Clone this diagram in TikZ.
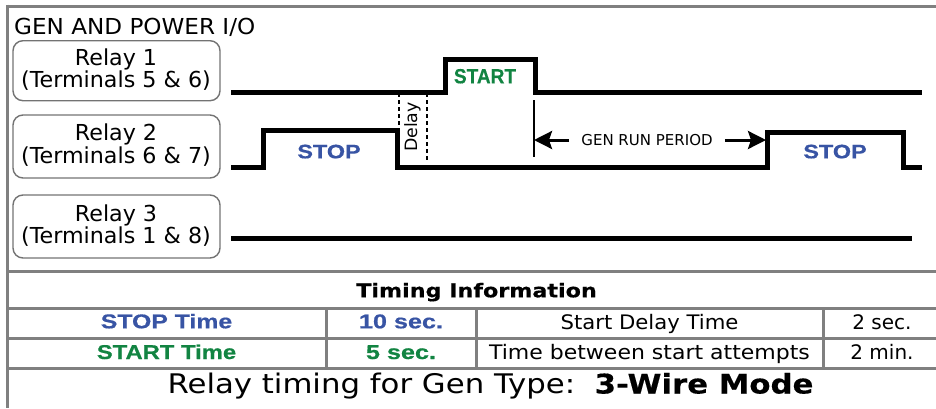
\documentclass[tikz,border=0pt]{standalone}
\usepackage{fontspec}
\usepackage{graphicx}
\setmainfont{DejaVu Sans}
\newfontfamily\libbold{Liberation Sans Bold}[FakeBold=0.5]
\newfontfamily\dvbold{DejaVu Sans Bold}[FakeBold=0.4]
\usetikzlibrary{arrows.meta}
\definecolor{stopblue}{RGB}{56,84,164}
\definecolor{startgreen}{RGB}{18,132,66}
\definecolor{framegray}{RGB}{128,128,128}
\definecolor{boxgray}{RGB}{115,115,115}
\newcommand\fsz[1]{\fontsize{#1pt}{#1pt}\selectfont}
\newcommand\hx[2]{\scalebox{#1}[1]{#2}}
\begin{document}
\begin{tikzpicture}[x=1pt,y=-1pt,
  rule/.style={draw=framegray,line width=3pt},
  relaybox/.style={draw=boxgray,line width=1.4pt,rounded corners=10pt,inner sep=0pt},
  wave/.style={line width=5pt,line join=miter,line cap=butt},
  lbl/.style={inner sep=0pt,anchor=base},
  dashline/.style={line width=2pt,dash pattern=on 4pt off 3pt},
  runarrow/.style={line width=3pt,-{Stealth[length=18pt,width=18pt,inset=3pt]},shorten <=12pt},
  stoplbl/.style={lbl,text=stopblue,font=\libbold},
  startlbl/.style={lbl,text=startgreen,font=\libbold}]
\useasboundingbox (0,0) rectangle (936,408);
% frame and table rules
\draw[rule] (7,6) -- (936,6);
\draw[rule] (7,4.5) -- (7,408);
\draw[rule] (7,271.5) -- (936,271.5);
\draw[rule] (7,308) -- (936,308);
\draw[rule] (7,338) -- (936,338);
\draw[rule] (7,368) -- (936,368);
\draw[rule] (326,308) -- (326,368);
\draw[rule] (476,308) -- (476,368);
\draw[rule] (823,308) -- (823,368);
% title
\node[lbl,anchor=base west] (title) at (14,34.3) {\fsz{22}\hx{1.05}{GEN AND POWER I/O}};
% relay boxes
\node[relaybox,minimum width=207pt,minimum height=60pt] (r1box) at (116.5,70.7) {};
\node[relaybox,minimum width=207pt,minimum height=63pt] (r2box) at (116.5,146.5) {};
\node[relaybox,minimum width=207pt,minimum height=63pt] (r3box) at (116.5,226.5) {};
\node[lbl] (r1a) at (116,65) {\fsz{22}\hx{1.01}{Relay 1}};
\node[lbl] (r1b) at (116,87.3) {\fsz{22}\hx{1.01}{(Terminals 5 \& 6)}};
\node[lbl] (r2a) at (116,140.7) {\fsz{22}\hx{1.01}{Relay 2}};
\node[lbl] (r2b) at (116,163.3) {\fsz{22}\hx{1.01}{(Terminals 6 \& 7)}};
\node[lbl] (r3a) at (116,221.7) {\fsz{22}\hx{1.01}{Relay 3}};
\node[lbl] (r3b) at (116,243.3) {\fsz{22}\hx{1.01}{(Terminals 1 \& 8)}};
% waveforms
\draw[wave] (231,92) -- (445,92) -- (445,59) -- (535,59) -- (535,92) -- (922,92);
\draw[wave] (231,167) -- (263,167) -- (263,130) -- (397,130) -- (397,167) -- (767,167) -- (767,132) -- (903,132) -- (903,167) -- (922,167);
\draw[wave] (231,238) -- (912,238);
% delay
\draw[dashline] (398.5,93) -- (398.5,162);
\draw[dashline] (427,93) -- (427,162);
\node[inner sep=0pt,rotate=90] (delay) at (412.5,127) {\fsz{17}\hx{1.02}{Delay}};
% labels on waves
\node[startlbl] (start) at (485,83.3) {\fsz{20.5}\hx{0.93}{START}};
\node[stoplbl] (stop1) at (329,158.3) {\fsz{19.5}\hx{1.2}{STOP}};
\node[stoplbl] (stop2) at (835,158.3) {\fsz{19.5}\hx{1.2}{STOP}};
% gen run period
\coordinate (tickT) at (534,100);
\coordinate (tickB) at (534,157);
\draw[line width=2.5pt] (tickT) -- (tickB);
\coordinate (runL) at (534,140);
\coordinate (runR) at (766,140);
\node[inner sep=0pt] (gr) at (647,140) {\fsz{15}\hx{1.0}{GEN RUN PERIOD}};
\draw[runarrow] (gr.west) -- (runL);
\draw[runarrow] (gr.east) -- (runR);
% table
\node[lbl] (ti) at (476.5,297.3) {\fsz{19}\hx{1.17}{\dvbold Timing Information}};
\node[stoplbl] (stopt) at (166.5,328.3) {\fsz{20}\hx{1.24}{STOP Time}};
\node[startlbl] (startt) at (166.5,359) {\fsz{20}\hx{1.19}{START Time}};
\node[stoplbl] (stopv) at (401,328.3) {\fsz{20}\hx{1.26}{10 sec.}};
\node[startlbl] (startv) at (401,359) {\fsz{20}\hx{1.26}{5 sec.}};
\node[lbl] (sdt) at (649.5,329) {\fsz{20}\hx{1.06}{Start Delay Time}};
\node[lbl] (tbs) at (649.5,359) {\fsz{20}\hx{1.10}{Time between start attempts}};
\node[lbl] (sdv) at (882,329) {\fsz{20}\hx{1.0}{2 sec.}};
\node[lbl] (tbv) at (882,359) {\fsz{20}\hx{1.0}{2 min.}};
% caption
\node[lbl] (cap) at (490.5,393.5) {\fsz{27}\hx{1.14}{Relay timing for Gen Type:\ \ {\dvbold 3-Wire Mode}}};
\end{tikzpicture}
\end{document}
